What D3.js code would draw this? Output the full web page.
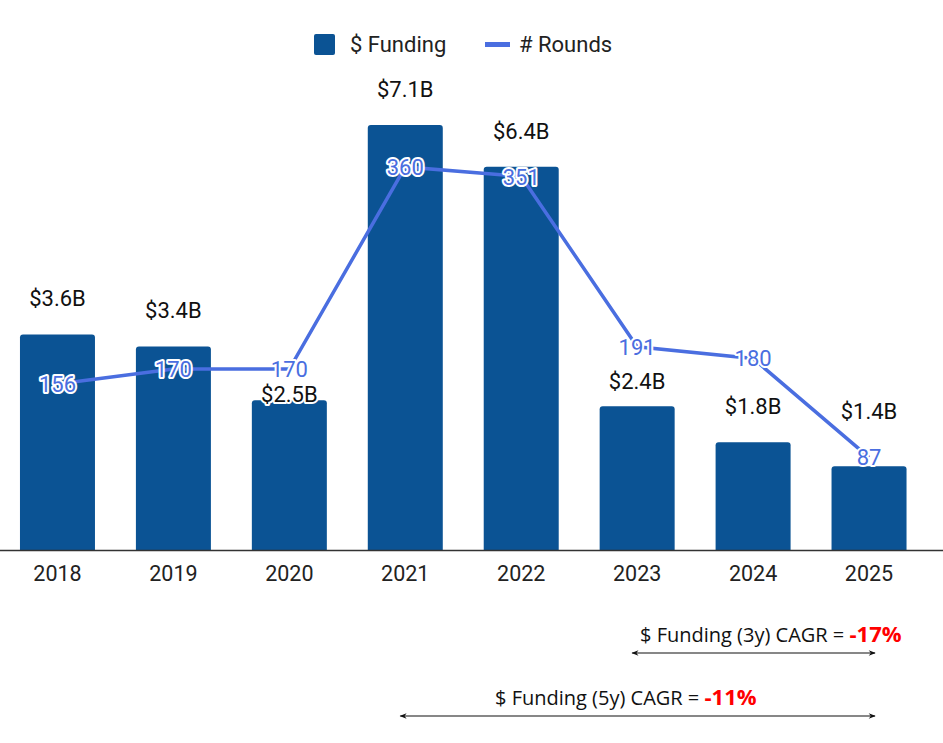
<!DOCTYPE html>
<html>
<head>
<meta charset="utf-8">
<script src="https://cdn.jsdelivr.net/npm/d3@7"></script>
<style>
  body { margin: 0; background: #fff; }
  text { font-family: Roboto, sans-serif; }
</style>
</head>
<body>
<svg id="chart" width="943" height="743"></svg>
<script>
// chart data
var years = ["2018", "2019", "2020", "2021", "2022", "2023", "2024", "2025"];
var funding = [3.6, 3.4, 2.5, 7.1, 6.4, 2.4, 1.8, 1.4]; // $B
var rounds = [156, 170, 170, 360, 351, 191, 180, 87];
var seriesNames = ["$ Funding", "# Rounds"];
var cagrLabels = ["$ Funding (3y) CAGR = ", "$ Funding (5y) CAGR = "];
var cagrValues = ["-17%", "-11%"];
var cagrFrom = ["2023", "2021"];
var cagrTo = ["2025", "2025"];

var barColor = "#0b5394";
var lineColor = "#4a6ee0";

var svg = d3.select("#chart");

var x = d3.scalePoint().domain(years).range([-0.5, 927]).padding(0.5);
var yBar = d3.scaleLinear().domain([0, 8]).range([550, 71]);
var yLine = d3.scaleLinear().domain([0, 400]).range([550, 124.4]);
var barW = 75;

// bars, rounded tops
svg.append("g")
    .selectAll("path")
    .data(funding)
    .enter()
    .append("path")
    .attr("fill", barColor)
    .attr("d", function (d, i) {
        var x0 = x(years[i]) - barW / 2, x1 = x0 + barW;
        var top = yBar(d), bot = yBar(0), r = 3;
        return "M" + x0 + "," + bot + "V" + (top + r) + "Q" + x0 + "," + top + " " + (x0 + r) + "," + top +
            "H" + (x1 - r) + "Q" + x1 + "," + top + " " + x1 + "," + (top + r) + "V" + bot + "Z";
    });

// baseline
svg.append("line")
    .attr("x1", 0).attr("x2", 943)
    .attr("y1", yBar(0) + 0.5).attr("y2", yBar(0) + 0.5)
    .attr("stroke", "#333").attr("stroke-width", 1.5);

// year labels
svg.append("g")
    .selectAll("text")
    .data(years)
    .enter()
    .append("text")
    .attr("x", function (d) { return x(d); })
    .attr("y", 581)
    .attr("text-anchor", "middle")
    .attr("font-size", 21.5)
    .attr("fill", "#222")
    .text(function (d) { return d; });

// funding labels (a few nudged to dodge the round labels)
var nudge = { "2020": 30, "2023": 11, "2025": -19 };
svg.append("g")
    .selectAll("text")
    .data(funding)
    .enter()
    .append("text")
    .attr("x", function (d, i) { return x(years[i]); })
    .attr("y", function (d, i) { return yBar(d) - 28 + (nudge[years[i]] || 0); })
    .attr("text-anchor", "middle")
    .attr("font-size", 22)
    .attr("fill", "#111")
    .attr("stroke", "#fff").attr("stroke-width", 4)
    .attr("stroke-linejoin", "round")
    .attr("paint-order", "stroke")
    .text(function (d) { return "$" + d.toFixed(1) + "B"; });

// rounds line
var line = d3.line()
    .x(function (d, i) { return x(years[i]); })
    .y(function (d) { return yLine(d); });

svg.append("path")
    .datum(rounds)
    .attr("d", line)
    .attr("fill", "none")
    .attr("stroke", lineColor)
    .attr("stroke-width", 3.5);

svg.append("g")
    .selectAll("text")
    .data(rounds)
    .enter()
    .append("text")
    .attr("x", function (d, i) { return x(years[i]); })
    .attr("y", function (d) { return yLine(d) + 8; })
    .attr("text-anchor", "middle")
    .attr("font-size", 22)
    .attr("fill", lineColor)
    .attr("stroke", "#fff").attr("stroke-width", 4)
    .attr("stroke-linejoin", "round")
    .attr("paint-order", "stroke")
    .text(function (d) { return d; });

// legend
var lg = svg.append("g");
lg.append("rect").attr("x", 314).attr("y", 34).attr("width", 21).attr("height", 21)
    .attr("rx", 2).attr("fill", barColor);
lg.append("text").attr("x", 350).attr("y", 52).attr("font-size", 22).attr("fill", "#222").text(seriesNames[0]);
lg.append("rect").attr("x", 485).attr("y", 42).attr("width", 25).attr("height", 5).attr("fill", lineColor);
lg.append("text").attr("x", 519).attr("y", 52).attr("font-size", 22).attr("fill", "#222").text(seriesNames[1]);

// CAGR annotations
var defs = svg.append("defs");
["start", "end"].forEach(function (k) {
    defs.append("marker")
        .attr("id", "arr-" + k)
        .attr("viewBox", "0 0 10 10")
        .attr("refX", 9).attr("refY", 5)
        .attr("markerWidth", 9).attr("markerHeight", 7)
        .attr("markerUnits", "userSpaceOnUse")
        .attr("orient", k === "start" ? "auto-start-reverse" : "auto")
        .append("path")
        .attr("d", "M0,1L10,5L0,9L3,5Z")
        .attr("fill", "#111");
});

var arrowY = [653, 716];
var textX = [640, 495];
cagrLabels.forEach(function (lab, i) {
    var x0 = x(cagrFrom[i]) - 5, x1 = x(cagrTo[i]) + 6;
    svg.append("line")
        .attr("x1", x0).attr("x2", x1)
        .attr("y1", arrowY[i]).attr("y2", arrowY[i])
        .attr("stroke", "#111").attr("stroke-width", 1.2)
        .attr("marker-start", "url(#arr-start)")
        .attr("marker-end", "url(#arr-end)");
    var t = svg.append("text")
        .attr("x", textX[i]).attr("y", arrowY[i] - 11)
        .style("font-family", "'Open Sans', sans-serif")
        .attr("font-size", 20)
        .attr("fill", "#111");
    t.append("tspan").text(lab);
    t.append("tspan").attr("fill", "#ff0000").attr("font-weight", "bold")
        .attr("font-size", 22).text(cagrValues[i]);
});
</script>
</body>
</html>
